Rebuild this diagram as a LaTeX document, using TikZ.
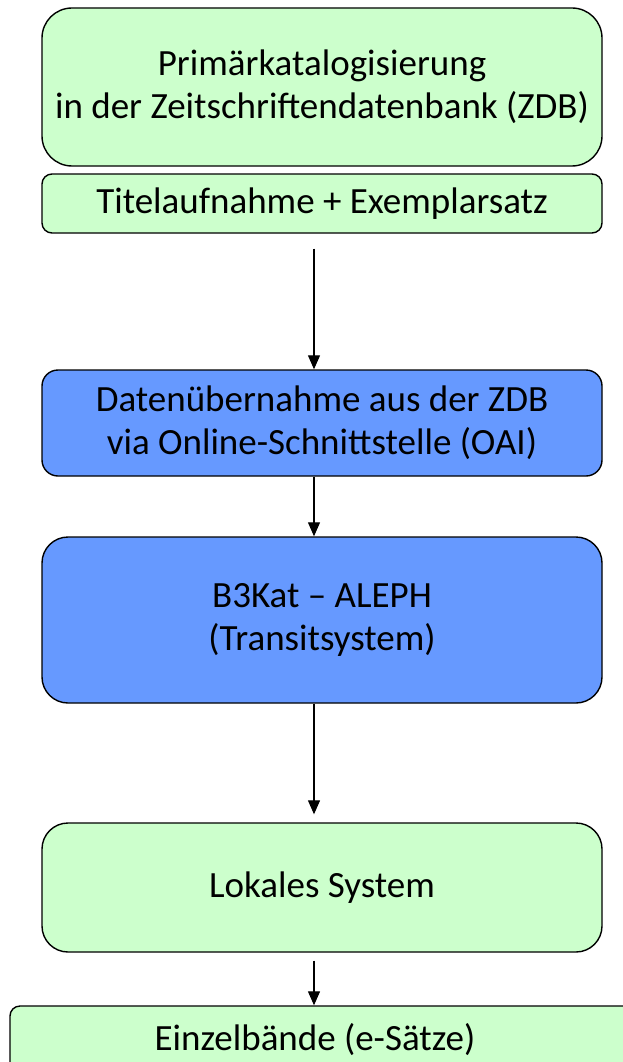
\documentclass[tikz,border=0pt]{standalone}
\usepackage{fontspec}
\setmainfont{Carlito}
\usetikzlibrary{arrows.meta}
\definecolor{lgreen}{HTML}{CCFFCC}
\definecolor{mblue}{HTML}{6699FF}
\tikzset{
  txt/.style={font=\fontsize{37}{43}\selectfont},
  box/.style={draw=black, line width=1.4pt, rounded corners=#1, minimum width=560pt, align=center, inner sep=0pt, txt},
  gbox/.style={box=#1, fill=lgreen},
  bbox/.style={box=#1, fill=mblue},
  arr/.style={line width=1.2pt, -{Triangle[width=12pt,length=14pt]}}
}
\begin{document}
\begin{tikzpicture}[x=1pt,y=-1pt]
\useasboundingbox (0,0) rectangle (623,1062);
\clip (0,0) rectangle (623,1062);
\node[gbox=30pt, minimum height=158pt] (p) at (322,87) {Primärkatalogisierung\\in der Zeitschriftendatenbank (ZDB)};
\node[gbox=10pt, minimum height=59pt] (t) at (322,203.5) {Titelaufnahme + Exemplarsatz};
\node[bbox=16pt, minimum height=106pt] (d) at (322,423) {Datenübernahme aus der ZDB\\via Online-Schnittstelle (OAI)};
\node[bbox=26pt, minimum height=166pt] (b) at (322,620) {B3Kat – ALEPH\\(Transitsystem)};
\node[gbox=26pt, minimum height=129pt] (l) at (322,887.5) {Lokales System};
\node[gbox=10pt, minimum height=70pt, minimum width=640pt] (e) at (330,1041) {};
\node[txt, inner sep=0pt] (et) at (315,1040) {Einzelbände (e-Sätze)};
\draw[arr, shorten <=15pt] (t.south -| 314,0) -- (d.north -| 314,0);
\draw[arr] (d.south -| 314,0) -- (b.north -| 314,0);
\draw[arr, shorten >=8pt] (b.south -| 314,0) -- (l.north -| 314,0);
\draw[arr, shorten <=8pt] (l.south -| 314,0) -- (e.north -| 314,0);
\end{tikzpicture}
\end{document}
